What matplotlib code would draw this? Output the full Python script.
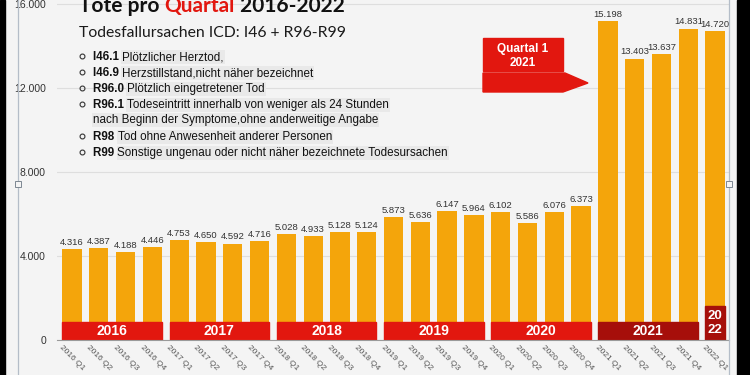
import matplotlib
matplotlib.use('Agg')
import matplotlib.pyplot as plt
from matplotlib.patches import Rectangle, Polygon
from matplotlib.lines import Line2D

# data
quarters = ['2016 Q1', '2016 Q2', '2016 Q3', '2016 Q4',
            '2017 Q1', '2017 Q2', '2017 Q3', '2017 Q4',
            '2018 Q1', '2018 Q2', '2018 Q3', '2018 Q4',
            '2019 Q1', '2019 Q2', '2019 Q3', '2019 Q4',
            '2020 Q1', '2020 Q2', '2020 Q3', '2020 Q4',
            '2021 Q1', '2021 Q2', '2021 Q3', '2021 Q4',
            '2022 Q1']
deaths = [4316, 4387, 4188, 4446,
          4753, 4650, 4592, 4716,
          5028, 4933, 5128, 5124,
          5873, 5636, 6147, 5964,
          6102, 5586, 6076, 6373,
          15198, 13403, 13637, 14831,
          14720]
years = ['2016', '2017', '2018', '2019', '2020', '2021']
year_first_bar = [0, 4, 8, 12, 16, 20]
yticks = [0, 4000, 8000, 12000, 16000]

codes = ['I46.1', 'I46.9', 'R96.0', 'R96.1', '', 'R98', 'R99']
code_texts = ['Plötzlicher Herztod,',
              'Herzstillstand,nicht näher bezeichnet',
              'Plötzlich eingetretener Tod',
              'Todeseintritt innerhalb von weniger als 24 Stunden',
              'nach Beginn der Symptome,ohne anderweitige Angabe',
              'Tod ohne Anwesenheit anderer Personen',
              'Sonstige ungenau oder nicht näher bezeichnete Todesursachen']

ORANGE = '#f4a50b'
RED = '#e2170f'
DARKRED = '#a60f0a'
BG = '#f4f4f4'

W, H = 750, 375
def fx(px):
    return px / W
def fy(py):
    return 1 - py / H

def dots(v):
    return f'{v:,}'.replace(',', '.')

fig = plt.figure(figsize=(7.5, 3.75), dpi=100, facecolor=BG)
ax = fig.add_axes([fx(57), fy(340), fx(729) - fx(57), fy(0) - fy(340)])
ax.set_facecolor(BG)

x = list(range(len(deaths)))
bw = 0.72
ax.bar(x, deaths, width=bw, color=ORANGE, zorder=2)

for i, v in enumerate(deaths):
    ax.annotate(dots(v), (i, v), xytext=(0, 1.5), textcoords='offset points',
                ha='center', va='bottom', fontsize=6.8, color='#333333',
                family='Liberation Sans')

# year bands at the bottom of the bars
band_h = 860
for yr, i0 in zip(years, year_first_bar):
    col = DARKRED if yr == '2021' else RED
    ax.add_patch(Rectangle((i0 - bw / 2, 0), 3 + bw, band_h, color=col, zorder=3))
    ax.text(i0 + 1.5, band_h / 2, yr, ha='center', va='center', color='white',
            fontsize=10, fontweight='bold', family='Liberation Sans', zorder=4)
ax.add_patch(Rectangle((24 - bw / 2, 0), bw, 1620, color=DARKRED, zorder=3))
ax.text(24, 810, '20\n22', ha='center', va='center', color='white', fontsize=9.5,
        fontweight='bold', family='Liberation Sans', linespacing=1.15, zorder=4)

ax.set_xlim(-0.56, 24.52)
ax.set_ylim(0, 16190)
ax.set_yticks(yticks)
ax.set_yticklabels([dots(v) for v in yticks], fontsize=7.5, color='#333333',
                   family='Liberation Sans')
ax.set_xticks(x)
ax.set_xticklabels(quarters, rotation=-45, ha='center', va='top', fontsize=6,
                   color='#555555', family='Liberation Sans')
ax.tick_params(axis='y', length=0, pad=8)
ax.tick_params(axis='x', length=0, pad=3)
ax.yaxis.grid(True, color='#dedede', lw=0.8)
ax.set_axisbelow(True)
for s in ['top', 'right', 'left']:
    ax.spines[s].set_visible(False)
ax.spines['bottom'].set_color('#9a9a9a')
ax.spines['bottom'].set_linewidth(0.8)
ax.spines['bottom'].set_zorder(5)

# titles (the top of the title is cut off in the original screenshot)
renderer = fig.canvas.get_renderer()
t1 = fig.text(fx(79), fy(12), 'Tote pro ', fontsize=15, fontweight='bold',
              family='Lato', color='#111111', va='baseline')
bb = t1.get_window_extent(renderer)
t2 = fig.text(bb.x1 / W, fy(12), 'Quartal', fontsize=15, fontweight='bold',
              family='Lato', color=RED, va='baseline')
bb = t2.get_window_extent(renderer)
fig.text(bb.x1 / W, fy(12), ' 2016-2022', fontsize=15, fontweight='bold',
         family='Lato', color='#111111', va='baseline')
fig.text(fx(79), fy(37), 'Todesfallursachen ICD: I46 + R96-R99', fontsize=11.3,
         family='Lato', color='#1a1a1a', va='baseline')

# bullet list
line_y = [60, 76, 92, 108, 123, 140, 156]
for code, txt, py in zip(codes, code_texts, line_y):
    if code:
        fig.add_artist(Line2D([fx(82)], [fy(py - 4)], marker='o', ms=3.5,
                              mfc='none', mec='#333333', mew=0.8))
        tc = fig.text(fx(93), fy(py), code + ' ', fontsize=8.4, fontweight='bold',
                      family='Liberation Sans', color='#111111', va='baseline')
        x0 = tc.get_window_extent(renderer).x1 / W
    else:
        x0 = fx(93)
    fig.text(x0, fy(py), txt, fontsize=8.4, family='Liberation Sans',
             color='#111111', va='baseline',
             bbox=dict(facecolor='#e9e9e9', edgecolor='none', pad=0.6))

# "Quartal 1 2021" marker
fig.add_artist(Rectangle((fx(483), fy(71)), fx(563) - fx(483), fy(38) - fy(71),
                         transform=fig.transFigure, color=RED))
fig.text(fx(523), fy(49), 'Quartal 1', ha='center', va='center', color='white',
         fontsize=8.5, fontweight='bold', family='Liberation Sans')
fig.text(fx(523), fy(63), '2021', ha='center', va='center', color='white',
         fontsize=8.5, fontweight='bold', family='Liberation Sans')
arrow_px = [(483, 73), (565, 73), (588, 83), (563, 92), (483, 92)]
fig.add_artist(Polygon([(fx(a), fy(b)) for a, b in arrow_px], closed=True,
                       transform=fig.transFigure, color=RED))

# selection frame and black screen edges
for px in [18, 729]:
    fig.add_artist(Line2D([fx(px), fx(px)], [0, 1], color='#b4bdc8', lw=0.9))
    fig.add_artist(Line2D([fx(px)], [fy(184)], marker='s', ms=4, mfc=BG,
                          mec='#7d8792', mew=0.7))
fig.add_artist(Rectangle((0, 0), fx(5), 1, transform=fig.transFigure, color='black'))
fig.add_artist(Rectangle((fx(737), 0), 1 - fx(737), 1, transform=fig.transFigure,
                         color='black'))

fig.savefig('out.png', dpi=100, facecolor=BG)
